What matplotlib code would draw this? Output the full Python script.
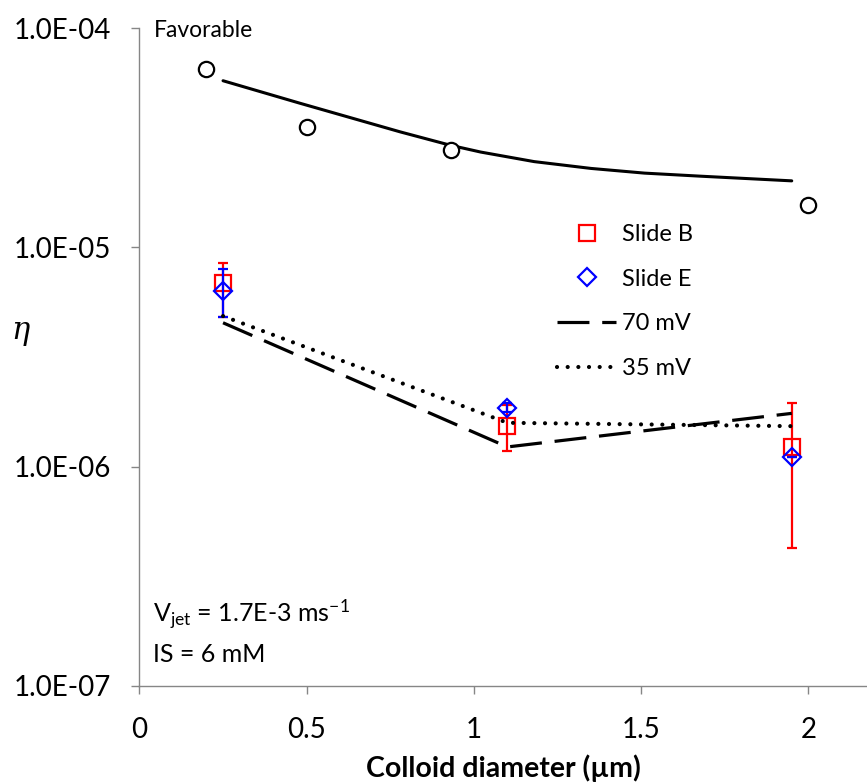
import numpy as np
import matplotlib
matplotlib.use("Agg")
import matplotlib.pyplot as plt
from matplotlib.ticker import FuncFormatter, NullLocator

plt.rcParams['font.family'] = ['Lato', 'DejaVu Sans']
plt.rcParams['mathtext.fontset'] = 'custom'
plt.rcParams['mathtext.rm'] = 'Lato'
plt.rcParams['mathtext.it'] = 'Lato:italic'

# favorable conditions: measured points and model curve
d_fav = [0.20, 0.50, 0.93, 2.00]
eta_fav = [6.5e-5, 3.54e-5, 2.78e-5, 1.56e-5]
d_fav_model = [0.25, 0.48, 0.78, 0.93, 1.02, 1.18, 1.35, 1.51, 1.68, 1.95]
eta_fav_model = [5.75e-5, 4.54e-5, 3.36e-5, 2.92e-5, 2.72e-5, 2.46e-5, 2.29e-5, 2.18e-5,
                 2.11e-5, 2.01e-5]

# unfavorable experiments
d_exp = [0.25, 1.10, 1.95]
eta_B = [6.9e-6, 1.53e-6, 1.23e-6]
B_hi = [8.45e-6, 1.91e-6, 1.95e-6]
B_lo = [4.81e-6, 1.18e-6, 4.27e-7]
eta_E = [6.32e-6, 1.86e-6, 1.11e-6]
E_hi = [7.96e-6, 1.95e-6, 1.11e-6]
E_lo = [4.80e-6, 1.77e-6, 1.11e-6]

# model predictions
eta_70mV = [4.53e-6, 1.23e-6, 1.75e-6]
eta_35mV = [4.86e-6, 1.585e-6, 1.53e-6]

x_ticks = [0, 0.5, 1, 1.5, 2]
y_ticks = [1e-7, 1e-6, 1e-5, 1e-4]


def main():
    fig = plt.figure(figsize=(8.67, 7.83), dpi=100)
    ax = fig.add_axes([0.1608, 0.1239, 0.8392, 0.8403])

    # favorable
    ax.plot(d_fav_model, eta_fav_model, color='black', lw=2.2, solid_capstyle='round',
            solid_joinstyle='round')
    ax.plot(d_fav, eta_fav, 'o', ms=11, mfc='white', mec='black', mew=1.6)

    # slide B
    eB = np.array(eta_B)
    ax.errorbar(d_exp, eB, yerr=[eB - np.array(B_lo), np.array(B_hi) - eB],
                fmt='none', ecolor='red', elinewidth=1.6, capsize=3.5, capthick=1.6)
    hB, = ax.plot(d_exp, eB, 's', ms=11, mfc='none', mec='red', mew=1.6, label='Slide B')

    # slide E
    eE = np.array(eta_E)
    ax.errorbar(d_exp, eE, yerr=[eE - np.array(E_lo), np.array(E_hi) - eE],
                fmt='none', ecolor='blue', elinewidth=1.6, capsize=3.5, capthick=1.6)
    hE, = ax.plot(d_exp, eE, 'D', ms=9.5, mfc='none', mec='blue', mew=1.6, label='Slide E')

    h70, = ax.plot(d_exp, eta_70mV, color='black', lw=2.3, dashes=(10, 4), label='70 mV')
    h35, = ax.plot(d_exp, eta_35mV, color='black', lw=3.0, linestyle=(0, (0.01, 2.55)),
                   dash_capstyle='round', label='35 mV')

    ax.set_yscale('log')
    ax.set_ylim(1e-7, 1e-4)
    ax.set_xlim(0, 2.175)
    ax.set_xticks(x_ticks)
    ax.set_xticklabels(['0', '0.5', '1', '1.5', '2'])
    ax.set_yticks(y_ticks)
    ax.yaxis.set_major_formatter(FuncFormatter(lambda v, p: f"{v:.1E}"))
    ax.yaxis.set_minor_locator(NullLocator())

    for s in ['top', 'right']:
        ax.spines[s].set_visible(False)
    for s in ['left', 'bottom']:
        ax.spines[s].set_color('#868686')
        ax.spines[s].set_linewidth(1.0)
    ax.tick_params(axis='both', direction='out', length=5.5, width=1.0, color='#868686',
                   labelsize=20)
    ax.tick_params(axis='x', pad=17)
    ax.tick_params(axis='y', pad=15)

    ax.set_xlabel('Colloid diameter (µm)', fontsize=20.5, fontweight='bold', labelpad=8)
    ax.text(-0.164, 0.541, 'η', transform=ax.transAxes, fontsize=22, style='italic',
            family=['DejaVu Serif'], ha='center', va='center')

    ax.text(0.020, 0.997, 'Favorable', transform=ax.transAxes, fontsize=16.5, va='center')
    ax.text(0.018, 0.0977, r'V$_{\mathrm{jet}}$ = 1.7E-3 ms$^{-1}$', transform=ax.transAxes,
            fontsize=18, va='baseline')
    ax.text(0.018, 0.037, 'IS = 6 mM', transform=ax.transAxes, fontsize=18, va='baseline')

    ax.legend(handles=[hB, hE, h70, h35], loc='upper left', bbox_to_anchor=(0.574, 0.702),
              frameon=False, fontsize=17, borderpad=0, borderaxespad=0,
              handlelength=2.5, handletextpad=0.25, labelspacing=1.0, numpoints=1)

    fig.savefig('out.png', dpi=100)


if __name__ == '__main__':
    main()
